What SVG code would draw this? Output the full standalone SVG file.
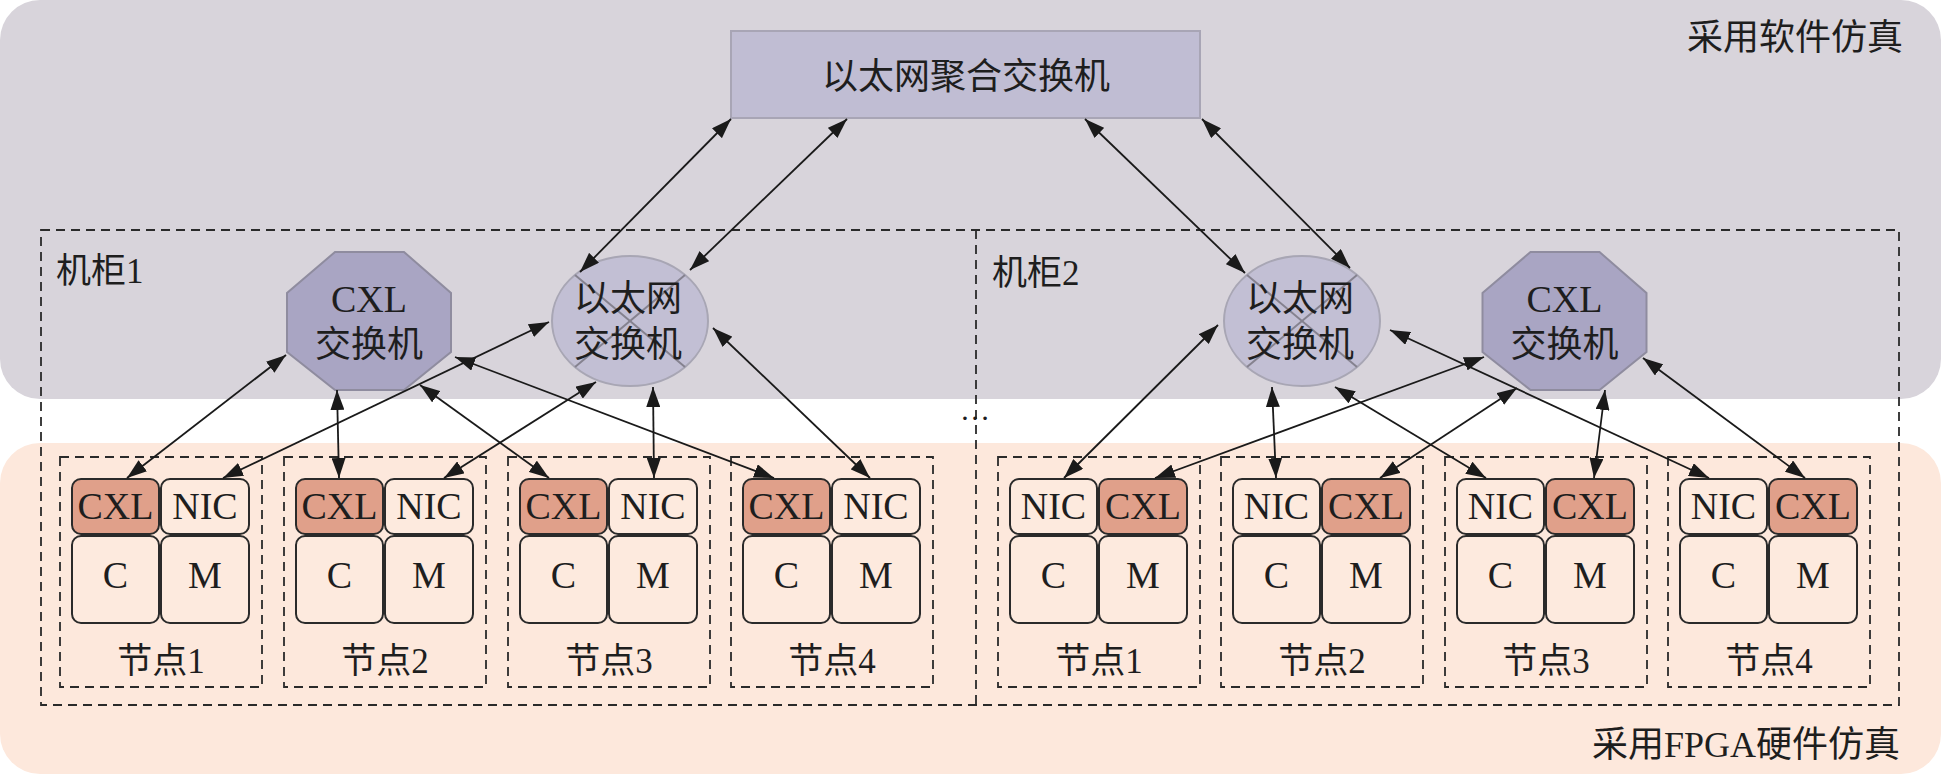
<svg xmlns="http://www.w3.org/2000/svg" width="1941" height="774" viewBox="0 0 1941 774">
<style>
text{font-family:"Liberation Serif","Noto Sans CJK SC",serif;fill:#1e1e1e;text-anchor:middle}
.t36{font-size:36px}
.t35{font-size:35px}
.t38{font-size:38px}
.dash{fill:none;stroke:#2a2a2a;stroke-width:1.8;stroke-dasharray:9,6}
.cxl{fill:#e0a08a;stroke:#2a2a2a;stroke-width:2}
.nic{fill:#fdeade;stroke:#2a2a2a;stroke-width:2}
.c{fill:none;stroke:#1a1a1a;stroke-width:1.8;marker-start:url(#ah);marker-end:url(#ah)}
.oct{fill:#a9a5c3;stroke:#8f8c9f;stroke-width:2}
.eth{fill:#c2bfd4;stroke:#a8a6b4;stroke-width:2}
.x{stroke:#85828f;stroke-width:2}
</style>
<defs>
<marker id="ah" viewBox="0 0 20 14" refX="20" refY="7" markerWidth="20" markerHeight="14" markerUnits="userSpaceOnUse" orient="auto-start-reverse"><path d="M0,0 L20,7 L0,14 z" fill="#1a1a1a"/></marker>
</defs>
<g id="background">
<rect x="0" y="0" width="1941" height="399" rx="40" fill="#d8d4db"/>
<rect x="0" y="443" width="1941" height="331" rx="40" fill="#fde8dc"/>
<text class="t36" x="1903" y="50" style="text-anchor:end">采用软件仿真</text>
<text class="t36" x="1900" y="757" style="text-anchor:end">采用FPGA硬件仿真</text>
</g>
<g id="cabinets">
<rect class="dash" x="41" y="230" width="1858" height="475"/>
<line class="dash" x1="976" y1="230" x2="976" y2="705"/>
<text class="t35" x="56" y="283" style="text-anchor:start">机柜1</text>
<text class="t35" x="992" y="285" style="text-anchor:start">机柜2</text>
<text x="975" y="420" style="font-size:30px">…</text>
</g>
<g id="agg-switch">
<rect x="731" y="31" width="469" height="87" fill="#c0bdd3" stroke="#a8a5b5" stroke-width="2"/>
<text class="t36" x="966" y="89">以太网聚合交换机</text>
</g>
<g id="cxl-switch-1">
<polygon class="oct" points="335,252 404,252 451,293 451,352 404,390 335,390 287,352 287,293"/>
<text class="t38" x="369" y="312">CXL</text>
<text class="t36" x="369" y="357">交换机</text>
</g>
<g id="eth-switch-1">
<ellipse class="eth" cx="630" cy="321" rx="78" ry="65"/>
<line class="x" x1="575" y1="275" x2="685" y2="367"/>
<line class="x" x1="685" y1="275" x2="575" y2="367"/>
<text class="t36" x="628" y="311">以太网</text>
<text class="t36" x="628" y="357">交换机</text>
</g>
<g id="eth-switch-2">
<ellipse class="eth" cx="1302" cy="321" rx="78" ry="65"/>
<line class="x" x1="1247" y1="275" x2="1357" y2="367"/>
<line class="x" x1="1357" y1="275" x2="1247" y2="367"/>
<text class="t36" x="1300" y="311">以太网</text>
<text class="t36" x="1300" y="357">交换机</text>
</g>
<g id="cxl-switch-2">
<polygon class="oct" points="1530.5,252 1599.5,252 1646.5,293 1646.5,352 1599.5,390 1530.5,390 1482.5,352 1482.5,293"/>
<text class="t38" x="1564.5" y="312">CXL</text>
<text class="t36" x="1564.5" y="357">交换机</text>
</g>
<g id="c1-node1" transform="translate(60,457)">
<rect class="dash" x="0" y="0" width="202" height="230"/>
<rect class="cxl" x="12" y="22" width="87" height="55" rx="9"/><rect class="nic" x="101" y="22" width="88" height="55" rx="9"/>
<rect class="nic" x="12" y="79" width="87" height="87" rx="9"/><rect class="nic" x="101" y="79" width="88" height="87" rx="9"/>
<text class="t38" x="55.5" y="62">CXL</text><text class="t38" x="145" y="62">NIC</text>
<text class="t38" x="55.5" y="131">C</text><text class="t38" x="145" y="131">M</text>
<text class="t35" x="101" y="216">节点1</text>
</g>
<g id="c1-node2" transform="translate(284,457)">
<rect class="dash" x="0" y="0" width="202" height="230"/>
<rect class="cxl" x="12" y="22" width="87" height="55" rx="9"/><rect class="nic" x="101" y="22" width="88" height="55" rx="9"/>
<rect class="nic" x="12" y="79" width="87" height="87" rx="9"/><rect class="nic" x="101" y="79" width="88" height="87" rx="9"/>
<text class="t38" x="55.5" y="62">CXL</text><text class="t38" x="145" y="62">NIC</text>
<text class="t38" x="55.5" y="131">C</text><text class="t38" x="145" y="131">M</text>
<text class="t35" x="101" y="216">节点2</text>
</g>
<g id="c1-node3" transform="translate(508,457)">
<rect class="dash" x="0" y="0" width="202" height="230"/>
<rect class="cxl" x="12" y="22" width="87" height="55" rx="9"/><rect class="nic" x="101" y="22" width="88" height="55" rx="9"/>
<rect class="nic" x="12" y="79" width="87" height="87" rx="9"/><rect class="nic" x="101" y="79" width="88" height="87" rx="9"/>
<text class="t38" x="55.5" y="62">CXL</text><text class="t38" x="145" y="62">NIC</text>
<text class="t38" x="55.5" y="131">C</text><text class="t38" x="145" y="131">M</text>
<text class="t35" x="101" y="216">节点3</text>
</g>
<g id="c1-node4" transform="translate(731,457)">
<rect class="dash" x="0" y="0" width="202" height="230"/>
<rect class="cxl" x="12" y="22" width="87" height="55" rx="9"/><rect class="nic" x="101" y="22" width="88" height="55" rx="9"/>
<rect class="nic" x="12" y="79" width="87" height="87" rx="9"/><rect class="nic" x="101" y="79" width="88" height="87" rx="9"/>
<text class="t38" x="55.5" y="62">CXL</text><text class="t38" x="145" y="62">NIC</text>
<text class="t38" x="55.5" y="131">C</text><text class="t38" x="145" y="131">M</text>
<text class="t35" x="101" y="216">节点4</text>
</g>
<g id="c2-node1" transform="translate(998,457)">
<rect class="dash" x="0" y="0" width="202" height="230"/>
<rect class="nic" x="12" y="22" width="87" height="55" rx="9"/><rect class="cxl" x="101" y="22" width="88" height="55" rx="9"/>
<rect class="nic" x="12" y="79" width="87" height="87" rx="9"/><rect class="nic" x="101" y="79" width="88" height="87" rx="9"/>
<text class="t38" x="55.5" y="62">NIC</text><text class="t38" x="145" y="62">CXL</text>
<text class="t38" x="55.5" y="131">C</text><text class="t38" x="145" y="131">M</text>
<text class="t35" x="101" y="216">节点1</text>
</g>
<g id="c2-node2" transform="translate(1221,457)">
<rect class="dash" x="0" y="0" width="202" height="230"/>
<rect class="nic" x="12" y="22" width="87" height="55" rx="9"/><rect class="cxl" x="101" y="22" width="88" height="55" rx="9"/>
<rect class="nic" x="12" y="79" width="87" height="87" rx="9"/><rect class="nic" x="101" y="79" width="88" height="87" rx="9"/>
<text class="t38" x="55.5" y="62">NIC</text><text class="t38" x="145" y="62">CXL</text>
<text class="t38" x="55.5" y="131">C</text><text class="t38" x="145" y="131">M</text>
<text class="t35" x="101" y="216">节点2</text>
</g>
<g id="c2-node3" transform="translate(1445,457)">
<rect class="dash" x="0" y="0" width="202" height="230"/>
<rect class="nic" x="12" y="22" width="87" height="55" rx="9"/><rect class="cxl" x="101" y="22" width="88" height="55" rx="9"/>
<rect class="nic" x="12" y="79" width="87" height="87" rx="9"/><rect class="nic" x="101" y="79" width="88" height="87" rx="9"/>
<text class="t38" x="55.5" y="62">NIC</text><text class="t38" x="145" y="62">CXL</text>
<text class="t38" x="55.5" y="131">C</text><text class="t38" x="145" y="131">M</text>
<text class="t35" x="101" y="216">节点3</text>
</g>
<g id="c2-node4" transform="translate(1668,457)">
<rect class="dash" x="0" y="0" width="202" height="230"/>
<rect class="nic" x="12" y="22" width="87" height="55" rx="9"/><rect class="cxl" x="101" y="22" width="88" height="55" rx="9"/>
<rect class="nic" x="12" y="79" width="87" height="87" rx="9"/><rect class="nic" x="101" y="79" width="88" height="87" rx="9"/>
<text class="t38" x="55.5" y="62">NIC</text><text class="t38" x="145" y="62">CXL</text>
<text class="t38" x="55.5" y="131">C</text><text class="t38" x="145" y="131">M</text>
<text class="t35" x="101" y="216">节点4</text>
</g>
<g id="connectors">
<line class="c" x1="731" y1="119" x2="580" y2="272"/>
<line class="c" x1="847" y1="119" x2="690" y2="270"/>
<line class="c" x1="1085" y1="119" x2="1245" y2="273"/>
<line class="c" x1="1202" y1="119" x2="1350" y2="268"/>
<line class="c" x1="286" y1="355" x2="127" y2="478"/>
<line class="c" x1="549" y1="322" x2="223" y2="478"/>
<line class="c" x1="337" y1="390" x2="339" y2="478"/>
<line class="c" x1="596" y1="382" x2="444" y2="478"/>
<line class="c" x1="420" y1="385" x2="549" y2="478"/>
<line class="c" x1="653" y1="387" x2="654" y2="478"/>
<line class="c" x1="455" y1="357" x2="774" y2="478"/>
<line class="c" x1="713" y1="328" x2="870" y2="478"/>
<line class="c" x1="1218" y1="325" x2="1064" y2="478"/>
<line class="c" x1="1484" y1="357" x2="1155" y2="478"/>
<line class="c" x1="1272" y1="387" x2="1276" y2="478"/>
<line class="c" x1="1517" y1="388" x2="1380" y2="478"/>
<line class="c" x1="1335" y1="387" x2="1486" y2="478"/>
<line class="c" x1="1605" y1="390" x2="1594" y2="478"/>
<line class="c" x1="1390" y1="330" x2="1709" y2="478"/>
<line class="c" x1="1643" y1="358" x2="1805" y2="478"/>
</g>
</svg>
